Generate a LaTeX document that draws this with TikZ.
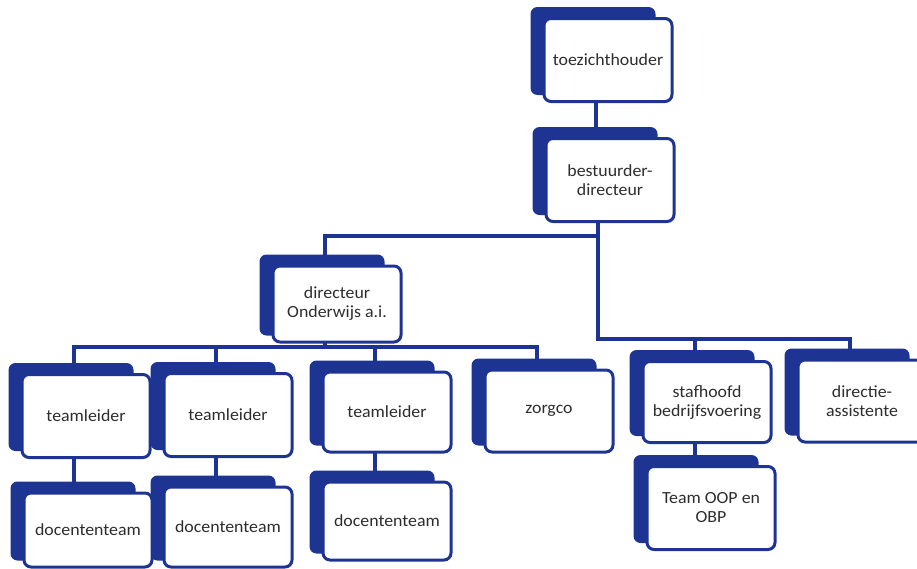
\documentclass[tikz,border=0pt]{standalone}
\usepackage{fontspec}
\newfontfamily\orgfont{Carlito}[FakeStretch=1.05]
\usetikzlibrary{calc, backgrounds}
\definecolor{navy}{RGB}{30, 52, 146}
\definecolor{inkgray}{RGB}{45, 45, 45}
\pgfdeclarelayer{links}
\pgfdeclarelayer{shadows}
\pgfsetlayers{links,shadows,main}

\begin{document}
\begin{tikzpicture}[x=1pt, y=-1pt,
    unit/.style={draw=navy, line width=3pt, rounded corners=7pt, fill=white,
                 minimum width=128pt, minimum height=83pt, align=center,
                 font=\orgfont\fontsize{17}{19}\selectfont, text=inkgray},
    link/.style={draw=navy, line width=3.5pt}
]
    \useasboundingbox (0,0) rectangle (917,568);

    \node[unit] (toez) at (608,60) {toezichthouder};
    \node[unit] (best) at (610,180) {bestuurder-\\directeur};
    \node[unit, minimum height=76pt] (dir) at (337,304) {directeur\\Onderwijs a.i.};

    \node[unit] (tl1) at (86,416) {teamleider};
    \node[unit] (tl2) at (228,415) {teamleider};
    \node[unit, minimum height=80pt] (tl3) at (387,412) {teamleider};
    \node[unit, minimum height=82pt] (zorg) at (549,411) {zorgco};
    \node[unit, minimum height=81pt] (staf) at (707,402) {stafhoofd\\bedrijfsvoering};
    \node[unit, minimum height=82pt] (dass) at (862,401) {directie-\\assistente};

    \node[unit, minimum height=74pt] (dt1) at (88,530) {docententeam};
    \node[unit, minimum height=80pt] (dt2) at (228,527) {docententeam};
    \node[unit, minimum height=78pt] (dt3) at (387,521) {docententeam};
    \node[unit] (team) at (711,508) {Team OOP en\\OBP};

    \foreach \n in {toez,best,dir,tl1,tl2,tl3,zorg,staf,dass,dt1,dt2,dt3,team} {
        \coordinate (\n-c) at ([xshift=-12pt]\n.center);
        \begin{pgfonlayer}{shadows}
            \fill[navy, rounded corners=7pt] ([xshift=-12pt, yshift=10pt]\n.north west)
                rectangle ([xshift=-18pt, yshift=8pt]\n.south east);
        \end{pgfonlayer}
    }

    \coordinate (busA) at (0,236);
    \coordinate (busB) at (0,339);
    \coordinate (busC) at (0,347);

    \begin{pgfonlayer}{links}
        \draw[link] (toez-c) -- (toez-c |- best-c);
        \draw[link] (best-c) -- (best-c |- busB) -| (dass-c);
        \draw[link] (staf-c |- busB) -- (staf-c);
        \draw[link] (best-c |- busA) -| (dir-c);
        \draw[link] (tl1-c) |- (zorg-c |- busC) -- (zorg-c);
        \foreach \n in {dir,tl2,tl3}
            \draw[link] (\n-c) -- (\n-c |- busC);
        \foreach \a/\b in {tl1/dt1,tl2/dt2,tl3/dt3,staf/team}
            \draw[link] (\a-c) -- (\a-c |- \b-c);
    \end{pgfonlayer}
\end{tikzpicture}
\end{document}
